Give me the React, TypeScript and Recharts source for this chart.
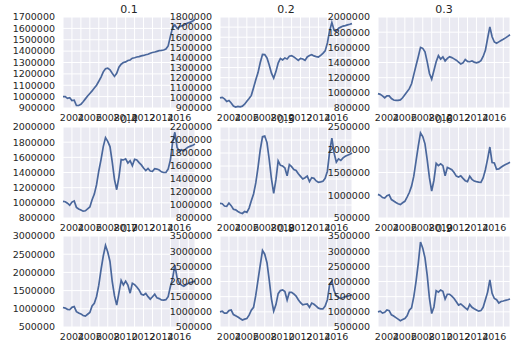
import React from 'react';
import { LineChart, Line, XAxis, YAxis, CartesianGrid } from 'recharts';

// quarterly sample dates (decimal years)
const dates = [
  2003, 2003.25, 2003.5, 2003.75, 2004, 2004.25, 2004.5, 2004.75,
  2005, 2005.25, 2005.5, 2005.75, 2006, 2006.25, 2006.5, 2006.75,
  2007, 2007.25, 2007.5, 2007.75, 2008, 2008.25, 2008.5, 2008.75,
  2009, 2009.25, 2009.5, 2009.75, 2010, 2010.25, 2010.5, 2010.75,
  2011, 2011.25, 2011.5, 2011.75, 2012, 2012.25, 2012.5, 2012.75,
  2013, 2013.25, 2013.5, 2013.75, 2014, 2014.25, 2014.5, 2014.75,
  2015, 2015.25, 2015.5, 2015.75, 2016, 2016.25, 2016.5, 2016.75,
  2017, 2017.25, 2017.5, 2017.75,
];

const yearTicks = [2003, 2004, 2005, 2006, 2007, 2008, 2009, 2010, 2011, 2012, 2013, 2014, 2015, 2016, 2017];

// values in thousands, one list per quantile
const q10 = [
  1000, 1000, 985, 990, 965, 968, 922, 922, 932, 955, 980, 1005, 1028, 1050, 1075, 1100,
  1135, 1172, 1218, 1245, 1250, 1235, 1205, 1178, 1205, 1258, 1285, 1300, 1305, 1318, 1322, 1338,
  1342, 1348, 1352, 1358, 1362, 1368, 1372, 1382, 1388, 1392, 1398, 1404, 1406, 1410, 1418, 1445,
  1530, 1610, 1630, 1600, 1615, 1622, 1628, 1640, 1648, 1655, 1665, 1680,
];
const q20 = [
  1000, 1005, 990, 965, 975, 950, 920, 910, 915, 912, 918, 938, 966, 993, 1025, 1100,
  1180, 1250, 1350, 1430, 1428, 1395, 1325, 1245, 1195, 1260, 1345, 1390, 1375, 1395, 1385, 1412,
  1418, 1405, 1388, 1371, 1390, 1385, 1371, 1405, 1420, 1427, 1415, 1408, 1404, 1420, 1440, 1465,
  1543, 1665, 1745, 1670, 1660, 1690, 1700, 1710, 1715, 1722, 1728, 1735,
];
const q30 = [
  990, 980, 960, 935, 960, 960, 925, 905, 900, 900, 907, 935, 975, 1015, 1055, 1120,
  1240, 1360, 1476, 1600, 1587, 1542, 1409, 1255, 1180, 1295, 1410, 1490, 1445, 1475, 1420, 1455,
  1475, 1465, 1448, 1430, 1405, 1380, 1395, 1440, 1415, 1410, 1420, 1405, 1396, 1405, 1425, 1480,
  1560, 1720, 1870, 1740, 1670, 1653, 1672, 1690, 1707, 1725, 1745, 1765,
];
const q40 = [
  1020, 1015, 995, 968, 1010, 1025, 940, 918, 905, 890, 895, 920, 945, 1040, 1115, 1240,
  1420, 1570, 1742, 1860, 1810, 1742, 1540, 1310, 1173, 1340, 1570, 1565, 1580, 1525, 1556, 1490,
  1575, 1565, 1530, 1500, 1460, 1425, 1453, 1420, 1415, 1450, 1445, 1432, 1409, 1400, 1400, 1445,
  1564, 1800, 1930, 1730, 1680, 1700, 1685, 1715, 1735, 1748, 1760, 1775,
];
const q50 = [
  1025, 1020, 985, 980, 1030, 990, 935, 925, 900, 880, 870, 900, 887, 953, 1066, 1170,
  1340, 1580, 1850, 2050, 2062, 1960, 1700, 1400, 1180, 1390, 1679, 1610, 1600, 1570, 1449, 1620,
  1590, 1545, 1530, 1480, 1440, 1400, 1420, 1445, 1360, 1420, 1410, 1370, 1350, 1355, 1365, 1410,
  1520, 1820, 2030, 1800, 1660, 1710, 1685, 1725, 1750, 1765, 1780, 1800,
];
const q60 = [
  1019, 995, 950, 940, 990, 1010, 905, 875, 840, 815, 795, 835, 867, 960, 1060, 1200,
  1420, 1750, 2080, 2370, 2290, 2130, 1780, 1380, 1093, 1330, 1700, 1650, 1690, 1650, 1426, 1611,
  1590, 1560, 1500, 1420, 1400, 1426, 1370, 1320, 1300, 1420, 1350, 1312, 1300, 1290, 1285, 1380,
  1560, 1800, 2060, 1720, 1710, 1570, 1580, 1615, 1648, 1675, 1700, 1725,
];
const q70 = [
  1037, 1020, 985, 975, 1040, 1060, 920, 885, 860, 815, 800, 850, 900, 1080, 1150, 1340,
  1650, 2074, 2450, 2740, 2560, 2300, 1750, 1360, 1102, 1440, 1780, 1657, 1760, 1650, 1430, 1700,
  1665, 1600, 1520, 1400, 1380, 1420, 1333, 1265, 1330, 1400, 1300, 1280, 1241, 1240, 1250, 1333,
  1611, 1843, 2200, 1850, 1700, 1650, 1620, 1660, 1700, 1720, 1740, 1760,
];
const q80 = [
  1000, 1020, 960, 960, 1040, 1060, 911, 870, 830, 778, 730, 760, 778, 889, 1056, 1150,
  1550, 2050, 2550, 3022, 2900, 2620, 2056, 1420, 1022, 1240, 1600, 1700, 1722, 1667, 1389, 1640,
  1640, 1590, 1520, 1400, 1300, 1230, 1250, 1260, 1150, 1290, 1250, 1190, 1120, 1100, 1095, 1190,
  1400, 1900, 2020, 1700, 1520, 1470, 1440, 1470, 1500, 1520, 1540, 1560,
];
const q90 = [
  1000, 1022, 960, 985, 1060, 1040, 900, 860, 810, 760, 705, 744, 778, 870, 1056, 1133,
  1500, 2000, 2600, 3300, 3100, 2778, 2200, 1440, 944, 1160, 1700, 1650, 1722, 1680, 1420, 1580,
  1580, 1520, 1440, 1330, 1222, 1260, 1200, 1130, 1070, 1244, 1150, 1100, 1060, 1022, 1040, 1150,
  1400, 1650, 2050, 1611, 1440, 1400, 1290, 1340, 1356, 1380, 1400, 1422,
];

const titles = ['0.1', '0.2', '0.3', '0.4', '0.5', '0.6', '0.7', '0.8', '0.9'];
const series = [q10, q20, q30, q40, q50, q60, q70, q80, q90];

const yTicks = [
  [900000, 1000000, 1100000, 1200000, 1300000, 1400000, 1500000, 1600000, 1700000],
  [900000, 1000000, 1100000, 1200000, 1300000, 1400000, 1500000, 1600000, 1700000, 1800000],
  [800000, 1000000, 1200000, 1400000, 1600000, 1800000, 2000000],
  [800000, 1000000, 1200000, 1400000, 1600000, 1800000, 2000000],
  [800000, 1000000, 1200000, 1400000, 1600000, 1800000, 2000000, 2200000],
  [500000, 1000000, 1500000, 2000000, 2500000],
  [500000, 1000000, 1500000, 2000000, 2500000, 3000000],
  [500000, 1000000, 1500000, 2000000, 2500000, 3000000, 3500000],
  [500000, 1000000, 1500000, 2000000, 2500000, 3000000, 3500000],
];

// plot area placement
const colLefts = [63, 220, 378];
const rowTops = [17, 127, 236];
const PLOT_W = 132;
const PLOT_H = 91;
const Y_W = 60;
const TOP = 20;

const textColor = '#262626';

const Panel = ({ idx }: { idx: number }) => {
  const values = series[idx];
  const ticks = yTicks[idx];
  const data = dates.map((d, i) => ({ d, v: values[i] * 1000 }));
  const left = colLefts[idx % 3];
  const top = rowTops[Math.floor(idx / 3)];
  return (
    <div style={{ position: 'absolute', left: left - Y_W, top: top - TOP, width: Y_W + PLOT_W + 5, height: TOP + PLOT_H + 20 }}>
      <div style={{
        position: 'absolute', left: Y_W, width: PLOT_W, top: 7, textAlign: 'center',
        fontSize: 11, lineHeight: '11px', color: textColor,
      }}>
        {titles[idx]}
      </div>
      <div style={{ position: 'absolute', left: 0, top: 0 }}>
        <LineChart width={Y_W + PLOT_W + 5} height={TOP + PLOT_H + 20} data={data}
          margin={{ top: TOP, right: 5, bottom: 0, left: 0 }}>
          <CartesianGrid stroke="#ffffff" strokeWidth={1} fill="#EAEAF2" fillOpacity={1} />
          <XAxis dataKey="d" type="number" domain={[2003, 2017.75]} ticks={yearTicks} interval={0}
            tickFormatter={(y) => (y % 2 === 0 ? String(y) : '')}
            axisLine={false} tickLine={false} tickSize={4} height={20}
            tick={{ fontSize: 9.5, fill: textColor }} />
          <YAxis type="number" domain={[ticks[0], ticks[ticks.length - 1]]} ticks={ticks} interval={0}
            axisLine={false} tickLine={false} width={Y_W}
            tick={{ fontSize: 9.5, fill: textColor }} />
          <Line type="linear" dataKey="v" stroke="#4A679C" strokeWidth={1.7} dot={false}
            isAnimationActive={false} />
        </LineChart>
      </div>
    </div>
  );
};

export default function App() {
  return (
    <div style={{
      position: 'fixed', left: 0, top: 0, width: 530, height: 360, background: '#ffffff',
      fontFamily: '"DejaVu Sans", sans-serif', overflow: 'hidden',
    }}>
      {titles.map((t, i) => <Panel key={t} idx={i} />)}
    </div>
  );
}
